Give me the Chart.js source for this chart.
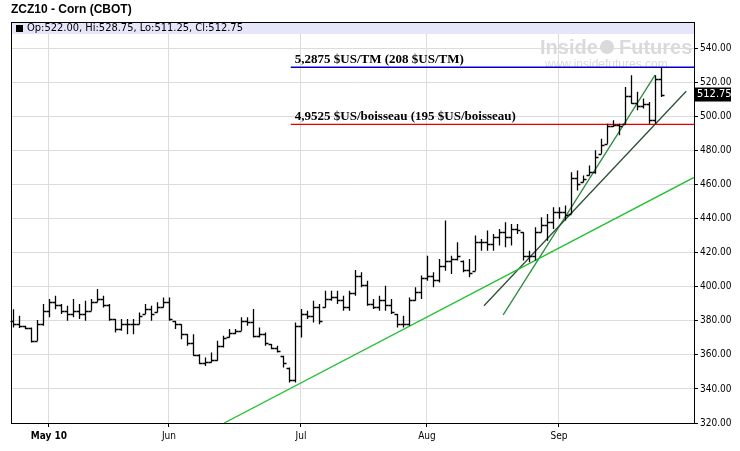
<!DOCTYPE html>
<html>
<head>
<meta charset="utf-8">
<script src="https://cdn.jsdelivr.net/npm/chart.js@4"></script>
<style>
  html, body { margin: 0; padding: 0; background: #fff; }
  #wrap { width: 740px; height: 451px; position: relative; }
</style>
</head>
<body>
<div id="wrap"><canvas id="c" width="740" height="451"></canvas></div>
<script>
// 日足 OHLC
const highs = [386.8,382.9,377,376.1,380.4,389.8,392.7,394.7,389.8,388.8,392.7,389.8,391.8,392.7,398.6,394.7,389.8,381,381,381,381,384.9,389.8,388.8,390.8,393.7,393.7,380,378,372.1,372.1,360.4,358.4,361.4,368.2,371.2,375.1,375.1,382,
  382,386.9,376.1,373.1,366.3,365.3,359.4,352.5,379,386.9,385.9,391.8,389.8,397.6,397.6,397.6,394.7,397.6,409.8,408.4,403.5,392.7,394.7,400.6,392.7,383.9,382.9,393.7,399.6,406.5,418.2,408.4,416.3,438.8,418.2,426.1,415.3,416.3,
  430,428,432.9,430.9,433.9,437.8,436.8,436.8,431.9,421.1,434.9,440.7,
  442.7,446.6,446.6,447.6,467.2,468.2,465.3,471.1,480,486.8,495.6,497.6,495.6,517.2,524.1,514.3,510.4,508.4,524.1,528.75];
const lows = [376.1,375.7,375,367.2,368.2,377,382,386.8,383.9,380,382,381,380,385.9,390.8,387.8,380,373.1,374.1,372.1,372.1,378,383.9,380,384.9,387.8,380,375.1,369.2,365.3,359.4,354.5,353.5,355.5,356.5,364.3,370.2,372.1,374.1,
  377,370.2,370.2,365.3,363.3,361.4,352.5,343.7,343.7,370.2,381,379,378,387.8,391.8,389.8,385.9,385.9,394.7,399.6,388.8,386.9,385.9,385.9,383.9,376.1,376.1,377,391.8,392.7,403.5,399.6,402.5,409.4,407.5,415.3,408.4,405.5,
  409.4,421.1,421.1,421.1,424.1,423.1,424.1,430.9,415.3,414.3,415.3,431.9,
  427,433.9,439.8,438.8,442.7,456.4,461.3,465.3,466.2,478,483.9,493.7,488.8,495.6,507.4,503.5,504.5,495.6,495.6,511.25];
const closes = [378,377,376,368,378,386,391,389,386,384,386,384,386,391,393,389,381,375,378,378,378,383,387,384,388,391,381,378,372,367,360,355,356,357,365,370,373,374,380,
  379,371,372,367,364,362,355,345,377,384,383,388,380,393,394,392,388,396,406,401,390,388,392,389,385,378,378,392,397,405,406,404,412,415,416,418,410,408,
  426,426,425,429,432,429,434,433,418,418,432,436,
  438,444,444,442,464,460,463,467,476,483,494,495,494,512,508,506,507,498,522,512.75];
const firstOpen = 380;
const lastOpen = 522;

// 月ラベル（バー番号）
const monthIdx = [6, 26, 48, 69, 91];
const monthLabels = ['May 10', 'Jun', 'Jul', 'Aug', 'Sep'];
const yTicks = [320, 340, 360, 380, 400, 420, 440, 460, 480, 500, 520, 540];

// トレンドライン・水平線
const trendLong = [{x: 35.2, y: 320}, {x: 113.5, y: 464.1}];
const trendMid = [{x: 78.5, y: 388.8}, {x: 112.2, y: 514.7}];
const trendSteep = [{x: 81.7, y: 383.5}, {x: 107, y: 524.1}];
const levelHigh = 528.75;
const levelLow = 495.25;
const levelStart = 46.3;
const labelHigh = '5,2875 $US/TM (208 $US/TM)';
const labelLow = '4,9525 $US/boisseau (195 $US/boisseau)';

const opens = closes.map((c, i) => {
  if (i === 0) return firstOpen;
  if (i === closes.length - 1) return lastOpen;
  return Math.min(highs[i], Math.max(lows[i], closes[i - 1]));
});

const ohlcPlugin = {
  id: 'ohlc',
  beforeDatasetsDraw(chart) {
    const {ctx, chartArea: a} = chart;
    ctx.save();
    // ヘッダー帯
    ctx.fillStyle = '#e6e6fa';
    ctx.fillRect(a.left, a.top, a.right - a.left, 12);
    ctx.fillStyle = '#000';
    ctx.fillRect(a.left + 5, a.top + 3, 7, 7);
    ctx.font = '11px "DejaVu Sans Condensed", "Liberation Sans Narrow", sans-serif';
    ctx.textBaseline = 'middle';
    ctx.fillText('Op:522.00, Hi:528.75, Lo:511.25, Cl:512.75', a.left + 16, a.top + 6.5);
    // ウォーターマーク
    ctx.fillStyle = '#dadada';
    ctx.font = 'bold 20px "Liberation Sans Narrow", "Liberation Sans", sans-serif';
    ctx.textAlign = 'left';
    ctx.fillText('Inside', 540, 48);
    ctx.fillText('Futures', 619, 48);
    ctx.beginPath();
    ctx.arc(607, 47, 7, 0, Math.PI * 2);
    ctx.fill();
    ctx.font = '12px "Liberation Sans", sans-serif';
    ctx.fillText('www.insidefutures.com', 545, 65);
    ctx.restore();
  },
  afterDatasetsDraw(chart) {
    const {ctx, chartArea: a, scales: {x, y}} = chart;
    ctx.save();
    ctx.strokeStyle = '#000';
    ctx.lineWidth = 1.3;
    highs.forEach((h, i) => {
      const px = Math.round(x.getPixelForValue(i)) + 0.5;
      ctx.beginPath();
      ctx.moveTo(px, y.getPixelForValue(h));
      ctx.lineTo(px, y.getPixelForValue(lows[i]));
      const yo = Math.round(y.getPixelForValue(opens[i])) + 0.5;
      const yc = Math.round(y.getPixelForValue(closes[i])) + 0.5;
      ctx.moveTo(px - 3, yo); ctx.lineTo(px, yo);
      ctx.moveTo(px, yc); ctx.lineTo(px + 3, yc);
      ctx.stroke();
    });
    // 水平線ラベル
    ctx.fillStyle = '#000';
    ctx.font = 'bold 13px "Liberation Serif", serif';
    ctx.textBaseline = 'bottom';
    const lx = x.getPixelForValue(levelStart) + 4;
    ctx.fillText(labelHigh, lx, y.getPixelForValue(levelHigh) - 1);
    ctx.fillText(labelLow, lx, y.getPixelForValue(levelLow) - 1);
    // 最終値ラベル
    const yl = y.getPixelForValue(closes[closes.length - 1]);
    ctx.fillRect(a.right + 1, yl - 7, 36, 14);
    ctx.fillStyle = '#fff';
    ctx.font = '11px "DejaVu Sans Condensed", sans-serif';
    ctx.textBaseline = 'middle';
    ctx.fillText('512.75', a.right + 3, yl);
    // 枠
    ctx.strokeStyle = '#000';
    ctx.lineWidth = 1;
    ctx.strokeRect(a.left + 0.5, a.top + 0.5, a.right - a.left, a.bottom - a.top);
    ctx.restore();
    // タイトル
    ctx.save();
    ctx.fillStyle = '#000';
    ctx.font = 'bold 12px "Liberation Sans", sans-serif';
    ctx.textBaseline = 'middle';
    ctx.fillText('ZCZ10 - Corn (CBOT)', 11, 10);
    ctx.restore();
  }
};

const lineDs = (data, color) => ({
  type: 'line', data, borderColor: color, borderWidth: 1.3,
  pointRadius: 0, fill: false, clip: 0
});

new Chart(document.getElementById('c'), {
  type: 'line',
  data: {
    datasets: [
      lineDs(trendLong, '#22c033'),
      lineDs(trendMid, '#2f4f35'),
      lineDs(trendSteep, '#2d8a3e'),
      lineDs([{x: levelStart, y: levelHigh}, {x: 113.5, y: levelHigh}], '#0000c8'),
      lineDs([{x: levelStart, y: levelLow}, {x: 113.5, y: levelLow}], '#e00000')
    ]
  },
  options: {
    responsive: false,
    animation: false,
    events: [],
    layout: { padding: { top: 22, left: 11, right: 0, bottom: 0 } },
    plugins: { legend: { display: false }, tooltip: { enabled: false } },
    scales: {
      x: {
        type: 'linear', min: -0.33, max: 113.5,
        afterBuildTicks: s => { s.ticks = monthIdx.map(v => ({value: v})); },
        afterFit: s => { s.height = 28; },
        ticks: {
          callback: (v) => monthLabels[monthIdx.indexOf(v)],
          color: '#000', maxRotation: 0, autoSkip: false,
          font: c => ({ family: '"DejaVu Sans Condensed", sans-serif', size: 10, weight: c.index === 0 ? 'bold' : 'normal' })
        },
        grid: { color: '#dcdcdc', drawTicks: true, tickLength: 4, tickColor: '#000' },
        border: { display: false }
      },
      y: {
        position: 'right', min: 320, max: 555.3,
        afterBuildTicks: s => { s.ticks = yTicks.map(v => ({value: v})); },
        afterFit: s => { s.width = 46; },
        ticks: {
          callback: v => v.toFixed(2), color: '#000', padding: 2,
          font: { family: '"DejaVu Sans Condensed", sans-serif', size: 10 }
        },
        grid: { color: '#dcdcdc', tickLength: 4, tickColor: '#000' },
        border: { display: false }
      }
    }
  },
  plugins: [ohlcPlugin]
});
</script>
</body>
</html>
